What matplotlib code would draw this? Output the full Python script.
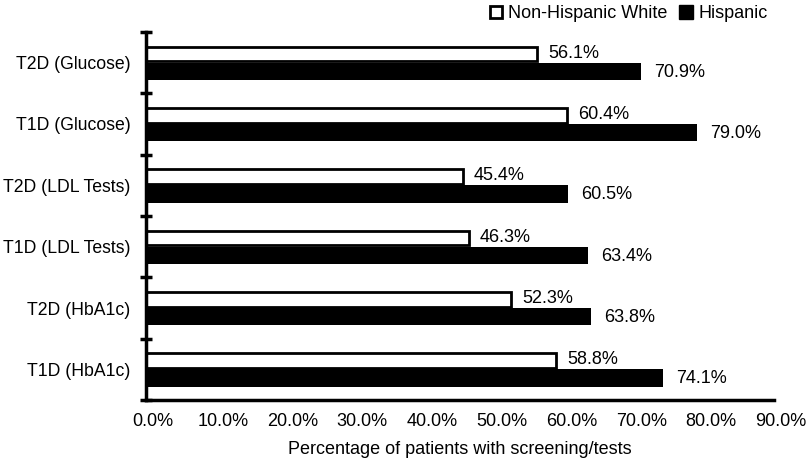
import matplotlib
matplotlib.use("Agg")
import matplotlib.pyplot as plt
import matplotlib.transforms as mtransforms
from matplotlib.lines import Line2D
import numpy as np

plt.rcParams['font.family'] = ['Liberation Sans', 'DejaVu Sans']

categories = ["T1D (HbA1c)", "T2D (HbA1c)", "T1D (LDL Tests)", "T2D (LDL Tests)",
              "T1D (Glucose)", "T2D (Glucose)"]
non_hispanic_white = [58.8, 52.3, 46.3, 45.4, 60.4, 56.1]
hispanic = [74.1, 63.8, 63.4, 60.5, 79.0, 70.9]
xticks = [0, 10, 20, 30, 40, 50, 60, 70, 80, 90]

FS = 13

fig = plt.figure(figsize=(8.12, 4.61), dpi=100)
ax = fig.add_axes([146/812, 1-400/461, (774-146)/812, (400-32)/461])

y = np.arange(len(categories))
h = 0.24
off = 0.14
ax.barh(y + off, non_hispanic_white, height=h, color='white', edgecolor='black', linewidth=2)
ax.barh(y - off, hispanic, height=h + 0.04, color='black', edgecolor='black', linewidth=0)

for yi, v in zip(y, non_hispanic_white):
    ax.annotate(f"{v:.1f}%", (v, yi + off), xytext=(11, 1), textcoords='offset pixels',
                ha='left', va='center', fontsize=FS)
for yi, v in zip(y, hispanic):
    ax.annotate(f"{v:.1f}%", (v, yi - off), xytext=(13, -1), textcoords='offset pixels',
                ha='left', va='center', fontsize=FS)

ax.set_xlim(0, 90)
ax.set_ylim(-0.5, len(categories) - 0.5)
ax.set_yticks(y)
ax.set_yticklabels(categories, fontsize=12.7)
ax.set_yticks(np.arange(-0.5, len(categories), 1.0), minor=True)
ax.tick_params(axis='y', which='major', length=0, pad=11)
ax.tick_params(axis='y', which='minor', direction='inout', length=8, width=2.5)
ax.set_xticks(xticks)
ax.set_xticklabels([f"{t:.1f}%" for t in xticks], fontsize=FS)
ax.tick_params(axis='x', length=0, pad=9)
shift = mtransforms.ScaledTranslation(7/100, 0, fig.dpi_scale_trans)
for lbl in ax.get_xticklabels():
    lbl.set_transform(lbl.get_transform() + shift)

for s in ['top', 'right']:
    ax.spines[s].set_visible(False)
ax.spines['left'].set_linewidth(2.5)
ax.spines['bottom'].set_linewidth(2.5)

ax.set_xlabel("Percentage of patients with screening/tests", fontsize=FS, labelpad=8)

handles = [Line2D([], [], marker='s', linestyle='none', markerfacecolor='white',
                  markeredgecolor='black', markeredgewidth=2, markersize=9),
           Line2D([], [], marker='s', linestyle='none', markerfacecolor='black',
                  markeredgecolor='black', markersize=10)]
fig.legend(handles, ["Non-Hispanic White", "Hispanic"], loc='upper right',
           bbox_to_anchor=(775/812, 1.005), ncol=2, frameon=False, fontsize=FS,
           handletextpad=0.2, columnspacing=0.5, handlelength=1.0, borderaxespad=0.0)

fig.savefig("out.png", dpi=100)
